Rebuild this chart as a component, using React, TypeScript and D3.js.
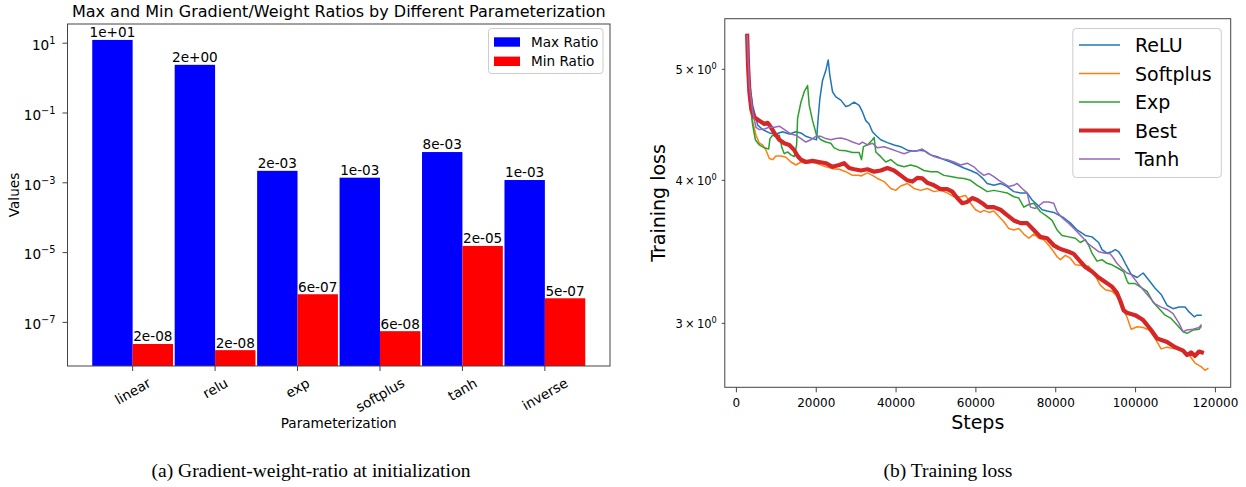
import React, { useRef, useEffect } from "react";
import * as d3 from "d3";

// ---- left panel: gradient / weight ratios ----
const categories = ["linear", "relu", "exp", "softplus", "tanh", "inverse"];
const maxRatio = [12.4, 2.4, 2.2e-3, 1.4e-3, 7.6e-3, 1.2e-3];
const minRatio = [2.4e-8, 1.6e-8, 6.4e-7, 5.6e-8, 1.55e-5, 4.9e-7];
const ratioTicks = [1e1, 1e-1, 1e-3, 1e-5, 1e-7];

// ---- right panel: training loss ----
const stepTicks = [0, 20000, 40000, 60000, 80000, 100000, 120000];
const lossTicks = [3, 4, 5];

const reluLoss = [
  [2700, 5.35], [3250, 4.88], [4080, 4.65], [5330, 4.47], [6580, 4.43], [8250, 4.4], [9910, 4.39],
  [11580, 4.41], [13250, 4.39], [14910, 4.41], [16160, 4.4], [17410, 4.37], [19080, 4.35], [20080, 4.34],
  [20410, 4.5], [20910, 4.715], [21580, 4.89], [22410, 4.99], [23000, 5.095], [23410, 4.94], [24080, 4.78],
  [24910, 4.73], [26160, 4.7], [27410, 4.64], [28240, 4.65], [29500, 4.68], [30750, 4.65], [31580, 4.59],
  [32420, 4.51], [33250, 4.48], [34080, 4.41], [34920, 4.38], [36160, 4.34], [37830, 4.315], [39500, 4.295],
  [41160, 4.28], [42830, 4.25], [44490, 4.24], [46160, 4.25], [47410, 4.24], [48660, 4.21], [50330, 4.195],
  [52000, 4.17], [53660, 4.15], [55330, 4.125], [57000, 4.1], [58660, 4.08], [60330, 4.055], [61580, 4.02],
  [62830, 3.975], [64500, 3.96], [66160, 3.975], [67830, 3.95], [69500, 3.91], [71160, 3.9], [72830, 3.9],
  [74080, 3.845], [75330, 3.81], [76580, 3.77], [77830, 3.76], [79500, 3.75], [80750, 3.73], [82000, 3.71],
  [83700, 3.67], [85330, 3.62], [87410, 3.58], [89080, 3.57], [90750, 3.53], [91580, 3.48], [92830, 3.455],
  [94080, 3.465], [94910, 3.48], [95750, 3.465], [96580, 3.43], [97410, 3.385], [98900, 3.31], [100400, 3.29],
  [101900, 3.32], [103400, 3.27], [104900, 3.22], [106400, 3.18], [107900, 3.11], [109400, 3.09], [110900, 3.1],
  [112400, 3.1], [113400, 3.07], [114700, 3.04], [115400, 3.05], [116400, 3.05],
];

const softplusLoss = [
  [2700, 5.35], [3080, 4.78], [4080, 4.5], [4910, 4.38], [5750, 4.31], [6580, 4.295], [7410, 4.25],
  [8250, 4.18], [9080, 4.17], [9910, 4.2], [11160, 4.2], [12410, 4.19], [13660, 4.15], [14910, 4.125],
  [16160, 4.15], [17410, 4.14], [19080, 4.15], [20740, 4.13], [22410, 4.11], [24080, 4.095], [25740, 4.09],
  [27410, 4.07], [29080, 4.04], [30740, 4.04], [31170, 4.035], [32830, 4.06], [34080, 4.04], [35330, 4.015],
  [37000, 3.99], [38660, 3.935], [39910, 3.92], [41160, 3.955], [42830, 3.975], [44490, 3.935], [46160, 3.92],
  [47830, 3.935], [49490, 3.91], [51160, 3.92], [52830, 3.9], [54490, 3.87], [56160, 3.87], [57410, 3.88],
  [58660, 3.82], [59910, 3.77], [61160, 3.75], [62000, 3.765], [63250, 3.75], [64500, 3.76], [65750, 3.72],
  [67000, 3.68], [68250, 3.63], [69500, 3.62], [70750, 3.63], [72000, 3.59], [73250, 3.56], [74500, 3.59],
  [75750, 3.56], [77000, 3.55], [78250, 3.51], [79500, 3.465], [80330, 3.43], [81160, 3.41], [82410, 3.44],
  [83660, 3.42], [84910, 3.375], [86580, 3.37], [88250, 3.365], [89910, 3.3], [91160, 3.24], [92410, 3.21],
  [94080, 3.2], [95330, 3.17], [96580, 3.1], [97830, 3.04], [98250, 3.01], [98900, 2.965], [100400, 2.98],
  [101900, 2.975], [103400, 2.96], [104900, 2.91], [106400, 2.85], [107900, 2.86], [109900, 2.85],
  [111900, 2.84], [113400, 2.815], [114900, 2.77], [116400, 2.75], [117400, 2.73], [118100, 2.74],
];

const expLoss = [
  [2700, 5.35], [3250, 4.71], [4080, 4.47], [4750, 4.34], [5750, 4.295], [7000, 4.27], [8080, 4.26],
  [8410, 4.35], [9080, 4.38], [9910, 4.37], [10750, 4.38], [11410, 4.27], [12000, 4.22], [12830, 4.235],
  [13660, 4.21], [14500, 4.195], [15080, 4.295], [15330, 4.53], [16160, 4.68], [17000, 4.78], [17830, 4.84],
  [18250, 4.65], [19080, 4.51], [20080, 4.38], [21160, 4.34], [22410, 4.32], [23660, 4.31], [24490, 4.27],
  [25740, 4.25], [27410, 4.245], [29080, 4.23], [30750, 4.23], [31330, 4.17], [31830, 4.28], [32830, 4.295],
  [34080, 4.34], [34500, 4.36], [34920, 4.235], [36160, 4.195], [37410, 4.15], [38660, 4.17], [40330, 4.125],
  [42000, 4.11], [43660, 4.125], [45330, 4.11], [47000, 4.08], [48660, 4.07], [50330, 4.07], [52000, 4.04],
  [53660, 4.03], [55330, 4.02], [57000, 4.015], [58660, 4.0], [60330, 3.96], [61580, 3.935], [62830, 3.91],
  [64500, 3.92], [66160, 3.91], [67830, 3.9], [69500, 3.87], [70750, 3.86], [72000, 3.79], [73250, 3.81],
  [74500, 3.82], [76160, 3.755], [77830, 3.72], [79080, 3.69], [80330, 3.62], [81580, 3.58], [83250, 3.57],
  [84910, 3.56], [86160, 3.53], [87410, 3.55], [88250, 3.51], [89080, 3.455], [90330, 3.4], [91580, 3.41],
  [92830, 3.385], [94080, 3.375], [95750, 3.35], [97000, 3.33], [97830, 3.27], [98250, 3.25], [99900, 3.25],
  [102900, 3.2], [104400, 3.13], [105900, 3.09], [107400, 3.05], [108900, 3.03], [110400, 2.99],
  [111900, 2.95], [112900, 2.94], [114400, 2.96], [115900, 2.965], [116400, 2.98],
];

const bestLoss = [
  [2700, 5.35], [2915, 5.04], [3250, 4.78], [3750, 4.61], [4500, 4.54], [5750, 4.51], [7000, 4.48],
  [7830, 4.49], [8660, 4.45], [9500, 4.4], [10750, 4.34], [12000, 4.31], [13250, 4.295], [14500, 4.25],
  [15330, 4.2], [16160, 4.17], [17400, 4.15], [19080, 4.16], [20740, 4.15], [22400, 4.14], [24080, 4.11],
  [25740, 4.125], [27000, 4.14], [28240, 4.1], [29500, 4.09], [31170, 4.08], [32830, 4.09], [34500, 4.07],
  [36160, 4.08], [37830, 4.1], [39500, 4.08], [41160, 4.04], [42830, 4.0], [44080, 3.99], [45330, 4.02],
  [46580, 4.015], [47830, 3.98], [49500, 3.96], [51160, 3.93], [52830, 3.93], [54080, 3.91], [55330, 3.86],
  [56580, 3.82], [57830, 3.83], [59080, 3.86], [60330, 3.845], [61580, 3.82], [62830, 3.79], [64500, 3.79],
  [66160, 3.77], [67830, 3.73], [69500, 3.69], [71160, 3.67], [72830, 3.67], [74500, 3.62], [76160, 3.57],
  [77830, 3.56], [79500, 3.51], [80750, 3.49], [81580, 3.48], [83250, 3.465], [84500, 3.45], [85750, 3.41],
  [87410, 3.36], [89080, 3.33], [90750, 3.29], [92410, 3.26], [94080, 3.23], [95330, 3.19], [96160, 3.14],
  [97000, 3.08], [97830, 3.065], [99900, 3.05], [101900, 3.02], [103900, 2.96], [105400, 2.91],
  [107900, 2.89], [109900, 2.86], [111900, 2.84], [112900, 2.815], [113900, 2.83], [114900, 2.81],
  [115900, 2.835], [116600, 2.83],
];

const tanhLoss = [
  [2700, 5.35], [3250, 4.84], [4080, 4.59], [4910, 4.45], [5750, 4.43], [7000, 4.435], [8250, 4.45],
  [9500, 4.45], [10750, 4.46], [11580, 4.44], [12410, 4.42], [13660, 4.39], [14910, 4.38], [16160, 4.35],
  [17410, 4.32], [18660, 4.34], [19910, 4.37], [21160, 4.37], [22410, 4.35], [23660, 4.34], [24910, 4.35],
  [26160, 4.355], [27410, 4.345], [29080, 4.32], [30750, 4.3], [31580, 4.32], [32830, 4.295], [34080, 4.31],
  [35330, 4.27], [37000, 4.28], [38660, 4.26], [40330, 4.24], [42000, 4.22], [43660, 4.24], [45330, 4.245],
  [46580, 4.26], [47830, 4.225], [49490, 4.195], [51160, 4.18], [52830, 4.17], [54490, 4.15], [56160, 4.125],
  [57830, 4.14], [59490, 4.11], [60750, 4.07], [62000, 4.04], [63250, 4.055], [64500, 4.03], [65750, 4.0],
  [67000, 3.975], [68250, 3.95], [69500, 3.96], [70330, 3.975], [71580, 3.935], [72830, 3.9], [73660, 3.79],
  [74910, 3.78], [76160, 3.81], [77000, 3.83], [78250, 3.83], [79500, 3.82], [80330, 3.755], [81580, 3.71],
  [83200, 3.67], [84910, 3.62], [86580, 3.57], [87830, 3.53], [89080, 3.5], [90750, 3.465], [92410, 3.455],
  [93660, 3.45], [94490, 3.42], [95330, 3.385], [96580, 3.35], [97830, 3.32], [98900, 3.31], [100900, 3.24],
  [102900, 3.18], [104900, 3.12], [106400, 3.1], [107900, 3.085], [109400, 3.06], [110900, 3.0],
  [111900, 2.95], [112900, 2.96], [114400, 2.965], [115900, 2.975], [116400, 2.99],
];

const lossSeries = [
  { name: "ReLU", color: "#1f77b4", width: 1.5, data: reluLoss },
  { name: "Softplus", color: "#ff7f0e", width: 1.5, data: softplusLoss },
  { name: "Exp", color: "#2ca02c", width: 1.5, data: expLoss },
  { name: "Best", color: "#d62728", width: 4.2, data: bestLoss },
  { name: "Tanh", color: "#9467bd", width: 1.5, data: tanhLoss },
];

const fmtSci = (v: number) =>
  d3.format(".0e")(v).replace(/e([+-])(\d)$/, "e$10$2");

const App: React.FC = () => {
  const ref = useRef<SVGSVGElement | null>(null);

  useEffect(() => {
    const svg = d3.select(ref.current);
    svg.selectAll("*").remove();
    const font = "DejaVu Sans, sans-serif";
    const fs = 13.6; // left panel base font size

    // ================= left chart =================
    const L = { left: 67.5, right: 610, top: 24, bottom: 366 };
    const x = d3.scaleLinear().domain([-0.79, 5.79]).range([L.left, L.right]);
    const y = d3
      .scaleLog()
      .domain([Math.pow(10, -8.25), Math.pow(10, 1.55)])
      .range([L.bottom, L.top]);
    const bw = 0.49;
    const gl = svg.append("g").attr("font-family", font).attr("fill", "#000");

    gl.append("text")
      .attr("x", (L.left + L.right) / 2)
      .attr("y", 17)
      .attr("text-anchor", "middle")
      .attr("font-size", 16)
      .text("Max and Min Gradient/Weight Ratios by Different Parameterization");

    const bars = gl.append("g");
    bars
      .selectAll("rect.max")
      .data(maxRatio)
      .join("rect")
      .attr("x", (d, i) => x(i - bw))
      .attr("width", x(bw) - x(0))
      .attr("y", (d) => y(d))
      .attr("height", (d) => L.bottom - y(d))
      .attr("fill", "#0000ff");
    bars
      .selectAll("rect.min")
      .data(minRatio)
      .join("rect")
      .attr("x", (d, i) => x(i))
      .attr("width", x(bw) - x(0))
      .attr("y", (d) => y(d))
      .attr("height", (d) => L.bottom - y(d))
      .attr("fill", "#ff0000");

    const labelSets = [
      { vals: maxRatio, off: -bw / 2 },
      { vals: minRatio, off: bw / 2 },
    ];
    labelSets.forEach((s) => {
      gl.append("g")
        .selectAll("text")
        .data(s.vals)
        .join("text")
        .attr("x", (d, i) => x(i + s.off))
        .attr("y", (d) => y(d) - 2.6)
        .attr("text-anchor", "middle")
        .attr("font-size", fs)
        .text((d) => fmtSci(d));
    });

    // frame
    gl.append("rect")
      .attr("x", L.left)
      .attr("y", L.top)
      .attr("width", L.right - L.left)
      .attr("height", L.bottom - L.top)
      .attr("fill", "none")
      .attr("stroke", "#444")
      .attr("stroke-width", 1);

    // y ticks
    ratioTicks.forEach((t) => {
      const ty = y(t);
      gl.append("line")
        .attr("x1", L.left - 5)
        .attr("x2", L.left)
        .attr("y1", ty)
        .attr("y2", ty)
        .attr("stroke", "#444");
      const exp = Math.round(Math.log10(t));
      const txt = gl
        .append("text")
        .attr("x", L.left - 12)
        .attr("y", ty + 6.8)
        .attr("text-anchor", "end")
        .attr("font-size", fs);
      txt.append("tspan").text("10");
      txt
        .append("tspan")
        .attr("dy", -6)
        .attr("font-size", 9.8)
        .text(exp < 0 ? "\u2212" + Math.abs(exp) : String(exp));
    });

    // x ticks with rotated labels
    categories.forEach((c, i) => {
      const tx = x(i);
      gl.append("line")
        .attr("x1", tx)
        .attr("x2", tx)
        .attr("y1", L.bottom)
        .attr("y2", L.bottom + 5)
        .attr("stroke", "#444");
      const t = gl
        .append("text")
        .attr("text-anchor", "middle")
        .attr("dominant-baseline", "central")
        .attr("font-size", fs)
        .text(c);
      const w = (t.node() as SVGTextElement).getComputedTextLength();
      const h = 15;
      const bh = 0.5 * w + 0.866 * h;
      const cy = L.bottom + 9 + bh / 2;
      t.attr("transform", `translate(${tx},${cy}) rotate(-30)`);
    });

    gl.append("text")
      .attr("x", (L.left + L.right) / 2)
      .attr("y", 428)
      .attr("text-anchor", "middle")
      .attr("font-size", fs)
      .text("Parameterization");
    gl.append("text")
      .attr("transform", `translate(19,${(L.top + L.bottom) / 2}) rotate(-90)`)
      .attr("text-anchor", "middle")
      .attr("font-size", fs)
      .text("Values");

    // legend
    const lg = gl.append("g");
    lg.append("rect")
      .attr("x", 488.5)
      .attr("y", 28.5)
      .attr("width", 114.5)
      .attr("height", 45)
      .attr("rx", 3)
      .attr("fill", "#fff")
      .attr("fill-opacity", 0.8)
      .attr("stroke", "#cccccc");
    [
      { name: "Max Ratio", color: "#0000ff" },
      { name: "Min Ratio", color: "#ff0000" },
    ].forEach((e, i) => {
      const cy = 42 + i * 19.3;
      lg.append("rect")
        .attr("x", 494)
        .attr("y", cy - 4.7)
        .attr("width", 26)
        .attr("height", 9.4)
        .attr("fill", e.color);
      lg.append("text")
        .attr("x", 531)
        .attr("y", cy + 5)
        .attr("font-size", fs)
        .text(e.name);
    });

    // ================= right chart =================
    const R = { left: 724.8, right: 1230.7, top: 18.7, bottom: 387.3 };
    const xs = d3.scaleLinear().domain([-2906, 123830]).range([R.left, R.right]);
    const ys = d3
      .scaleLog()
      .domain([Math.pow(10, 0.4213), Math.pow(10, 0.7432)])
      .range([R.bottom, R.top]);
    const gr = svg.append("g").attr("font-family", font).attr("fill", "#000");

    const line = d3
      .line<number[]>()
      .x((d) => xs(d[0]))
      .y((d) => ys(d[1]));
    lossSeries.forEach((s) => {
      gr.append("path")
        .attr("d", line(s.data) || "")
        .attr("fill", "none")
        .attr("stroke", s.color)
        .attr("stroke-width", s.width)
        .attr("stroke-linejoin", "round")
        .attr("stroke-linecap", "square");
    });

    gr.append("rect")
      .attr("x", R.left)
      .attr("y", R.top)
      .attr("width", R.right - R.left)
      .attr("height", R.bottom - R.top)
      .attr("fill", "none")
      .attr("stroke", "#444")
      .attr("stroke-width", 1);

    stepTicks.forEach((t) => {
      const tx = xs(t);
      gr.append("line")
        .attr("x1", tx)
        .attr("x2", tx)
        .attr("y1", R.bottom)
        .attr("y2", R.bottom + 5)
        .attr("stroke", "#444");
      gr.append("text")
        .attr("x", tx)
        .attr("y", R.bottom + 20)
        .attr("text-anchor", "middle")
        .attr("font-size", 12)
        .text(String(t));
    });

    lossTicks.forEach((t) => {
      const ty = ys(t);
      gr.append("line")
        .attr("x1", R.left - 3)
        .attr("x2", R.left)
        .attr("y1", ty)
        .attr("y2", ty)
        .attr("stroke", "#444");
      const txt = gr
        .append("text")
        .attr("x", R.left - 8)
        .attr("y", ty + 4.8)
        .attr("text-anchor", "end")
        .attr("font-size", 11.5);
      txt.append("tspan").text(`${t}\u2009\u00d7\u200910`);
      txt.append("tspan").attr("dy", -5).attr("font-size", 8.2).text("0");
    });

    gr.append("text")
      .attr("x", (R.left + R.right) / 2)
      .attr("y", 428.5)
      .attr("text-anchor", "middle")
      .attr("font-size", 19)
      .text("Steps");
    gr.append("text")
      .attr("transform", `translate(664.5,${(R.top + R.bottom) / 2}) rotate(-90)`)
      .attr("text-anchor", "middle")
      .attr("font-size", 19)
      .text("Training loss");

    const lr = gr.append("g");
    lr.append("rect")
      .attr("x", 1072.8)
      .attr("y", 28.5)
      .attr("width", 148.5)
      .attr("height", 149)
      .attr("rx", 3.5)
      .attr("fill", "#fff")
      .attr("fill-opacity", 0.8)
      .attr("stroke", "#cccccc");
    lossSeries.forEach((s, i) => {
      const cy = 45 + i * 28.5;
      lr.append("line")
        .attr("x1", 1079)
        .attr("x2", 1120)
        .attr("y1", cy)
        .attr("y2", cy)
        .attr("stroke", s.color)
        .attr("stroke-width", s.width);
      lr.append("text")
        .attr("x", 1135)
        .attr("y", cy + 7)
        .attr("font-size", 19)
        .text(s.name);
    });

    // ================= captions =================
    const cap = svg
      .append("g")
      .attr("font-family", "Liberation Serif, Times New Roman, serif")
      .attr("font-size", 19.5)
      .attr("text-anchor", "middle");
    cap.append("text").attr("x", 311).attr("y", 477).text("(a) Gradient-weight-ratio at initialization");
    cap.append("text").attr("x", 948).attr("y", 477).text("(b) Training loss");
  }, []);

  return (
    <svg
      ref={ref}
      width={1246}
      height={487}
      style={{ position: "absolute", left: 0, top: 0, background: "#fff" }}
    />
  );
};

export default App;
